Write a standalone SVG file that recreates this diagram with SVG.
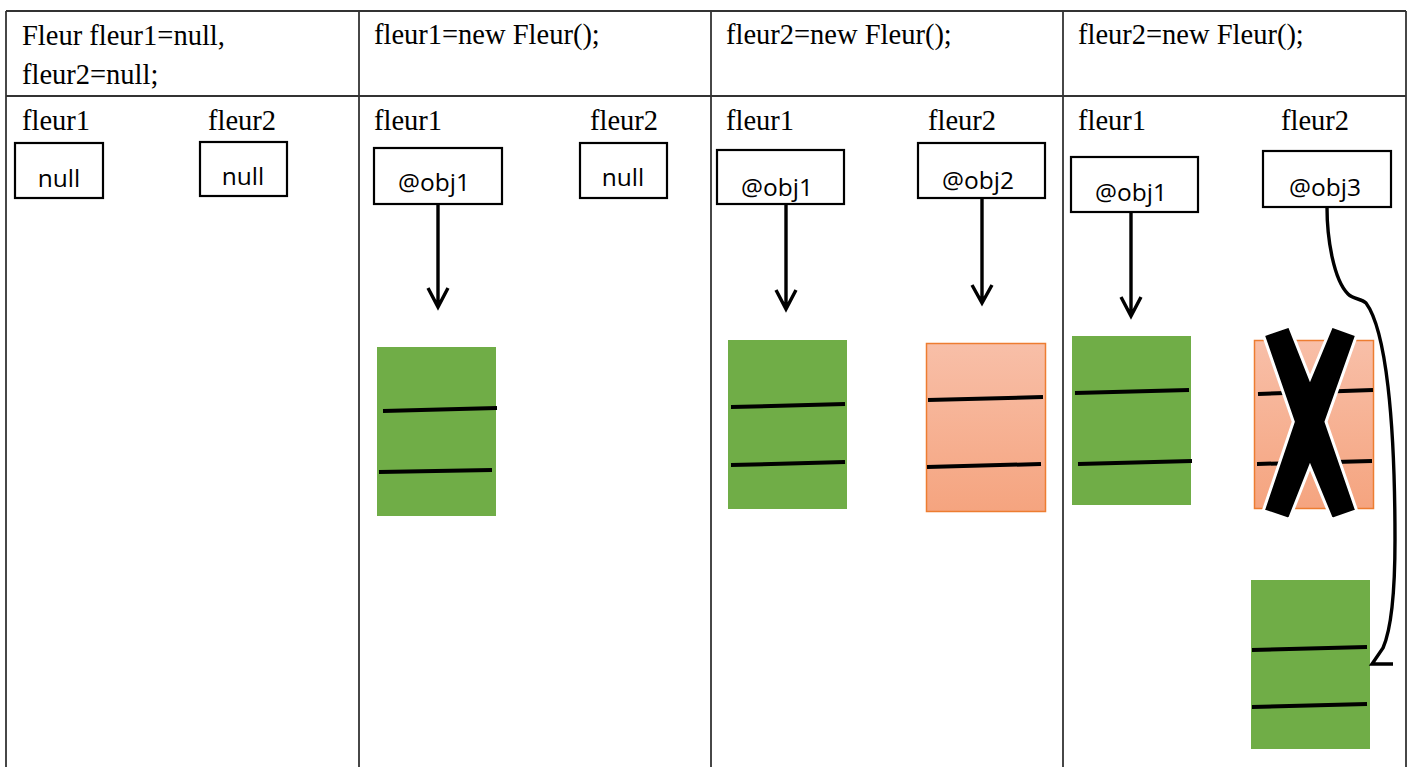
<svg xmlns="http://www.w3.org/2000/svg" width="1411" height="767" viewBox="0 0 1411 767">
<defs>
<linearGradient id="og" x1="0" y1="0" x2="0" y2="1">
<stop offset="0" stop-color="#f8bfa8"/>
<stop offset="1" stop-color="#f5a47f"/>
</linearGradient>
</defs>
<style>
.tbl{stroke:#333;stroke-width:1.8;fill:none}
.ser{font-family:"Liberation Serif","Times New Roman",serif;font-size:28.5px;fill:#000}
.sans{font-family:"Open Sans","Liberation Sans",sans-serif;font-size:24.5px;fill:#000}
.box{fill:#fff;stroke:#000;stroke-width:2.2}
.green{fill:#70ad47}
.orange{fill:url(#og);stroke:#ed7d31;stroke-width:1.5}
.bar{stroke:#000;stroke-width:4;fill:none}
.arr{stroke:#000;stroke-width:3.4;fill:none}
</style>
<rect width="1411" height="767" fill="#fff"/>
<g id="table">
<line class="tbl" x1="6" y1="11" x2="1406" y2="11"/>
<line class="tbl" x1="6" y1="96" x2="1406" y2="96"/>
<line class="tbl" x1="6" y1="11" x2="6" y2="767"/>
<line class="tbl" x1="359" y1="11" x2="359" y2="767"/>
<line class="tbl" x1="711" y1="11" x2="711" y2="767"/>
<line class="tbl" x1="1063" y1="11" x2="1063" y2="767"/>
<line class="tbl" x1="1406" y1="11" x2="1406" y2="767"/>
</g>
<g id="headers">
<text class="ser" x="22" y="45">Fleur fleur1=null,</text>
<text class="ser" x="22" y="84">fleur2=null;</text>
<text class="ser" x="374" y="44">fleur1=new Fleur();</text>
<text class="ser" x="726" y="44">fleur2=new Fleur();</text>
<text class="ser" x="1078" y="44">fleur2=new Fleur();</text>
</g>
<g id="labels">
<text class="ser" x="22" y="130">fleur1</text>
<text class="ser" x="208" y="130">fleur2</text>
<text class="ser" x="374" y="130">fleur1</text>
<text class="ser" x="590" y="130">fleur2</text>
<text class="ser" x="726" y="130">fleur1</text>
<text class="ser" x="928" y="130">fleur2</text>
<text class="ser" x="1078" y="130">fleur1</text>
<text class="ser" x="1281" y="130">fleur2</text>
</g>
<g id="c1-fleur1"><rect class="box" x="15" y="143" width="88" height="55"/><text class="sans" x="59" y="187" text-anchor="middle">null</text></g>
<g id="c1-fleur2"><rect class="box" x="200" y="142" width="87" height="54"/><text class="sans" x="243" y="185" text-anchor="middle">null</text></g>
<g id="c2-fleur1"><rect class="box" x="374" y="148" width="128" height="56"/><text class="sans" x="434" y="191" text-anchor="middle">@obj1</text></g>
<g id="c2-fleur2"><rect class="box" x="580" y="143" width="87" height="55"/><text class="sans" x="623" y="186" text-anchor="middle">null</text></g>
<g id="c3-fleur1"><rect class="box" x="717" y="150" width="127" height="54"/><text class="sans" x="777" y="196" text-anchor="middle">@obj1</text></g>
<g id="c3-fleur2"><rect class="box" x="918" y="143" width="127" height="55"/><text class="sans" x="978" y="189" text-anchor="middle">@obj2</text></g>
<g id="c4-fleur1"><rect class="box" x="1071" y="157" width="127" height="55"/><text class="sans" x="1131" y="201" text-anchor="middle">@obj1</text></g>
<g id="c4-fleur2"><rect class="box" x="1263" y="151" width="128" height="56"/><text class="sans" x="1325" y="196" text-anchor="middle">@obj3</text></g>
<g id="obj-c2-1"><rect class="green" x="377" y="347" width="119" height="169"/><line class="bar" x1="383" y1="411" x2="497" y2="408"/><line class="bar" x1="379" y1="472" x2="492" y2="470"/></g>
<g id="obj-c3-1"><rect class="green" x="728" y="340" width="119" height="169"/><line class="bar" x1="731" y1="407" x2="845" y2="404"/><line class="bar" x1="731" y1="465" x2="845" y2="462"/></g>
<g id="obj-c3-2"><rect class="orange" x="926.5" y="343.5" width="119" height="168"/><line class="bar" x1="928" y1="400" x2="1043" y2="397"/><line class="bar" x1="927" y1="467" x2="1041" y2="464"/></g>
<g id="obj-c4-1"><rect class="green" x="1072" y="336" width="119" height="169"/><line class="bar" x1="1075" y1="393" x2="1189" y2="390"/><line class="bar" x1="1078" y1="464" x2="1192" y2="461"/></g>
<g id="obj-c4-2"><rect class="orange" x="1254.5" y="340.5" width="119" height="168"/><line class="bar" x1="1258" y1="394" x2="1373" y2="390"/><line class="bar" x1="1257" y1="464" x2="1372" y2="461"/>
<polygon points="1263.3,335 1289.3,326 1310,378.3 1331.7,326 1356.7,335 1326,421.7 1356.7,510.7 1331.7,519.3 1310,466.7 1289.3,519.3 1263.3,510.7 1293.3,421.7" fill="#000" stroke="#fff" stroke-width="3" stroke-linejoin="miter"/></g>
<g id="obj-c4-3"><rect class="green" x="1251" y="580" width="119" height="169"/><line class="bar" x1="1252" y1="650" x2="1367" y2="647"/><line class="bar" x1="1252" y1="707" x2="1367" y2="704"/></g>
<g id="connectors">
<path class="arr" d="M438,204 V306 M428,288 L438,307 L448,288"/>
<path class="arr" d="M786,204 V308 M776,290 L786,309 L796,290"/>
<path class="arr" d="M982,198 V302 M972,285 L982,303 L992,285"/>
<path class="arr" d="M1131,212 V314 M1121,297 L1131,316 L1141,297"/>
<path class="arr" stroke-width="3" d="M1327,207 C1327,240 1334,280 1348,294 C1354,300 1361,298 1366,303 C1386,330 1395,420 1395,540 C1395,600 1390,632 1383,648 L1372,664 L1393,664"/>
</g>
</svg>
